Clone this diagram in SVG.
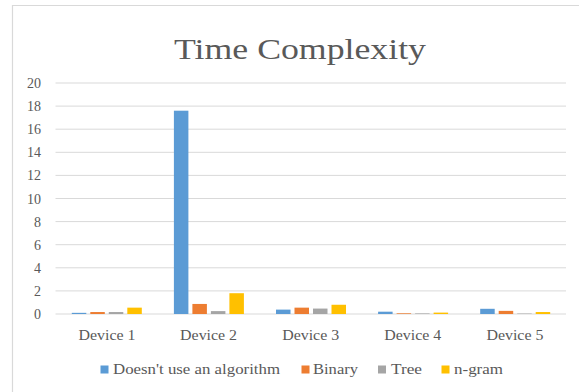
<svg xmlns="http://www.w3.org/2000/svg" width="579" height="392" viewBox="0 0 579 392">
<style>
.t{font-family:"Liberation Serif","Times New Roman",serif;fill:#595959}
.g{stroke:#D9D9D9;stroke-width:1}
.b1{fill:#5B9BD5}.b2{fill:#ED7D31}.b3{fill:#A5A5A5}.b4{fill:#FFC000}
</style>
<rect width="579" height="392" fill="#fff"/>
<path d="M12.5 392V5.5H579" fill="none" stroke="#D9D9D9" stroke-width="1.2"/>
<text class="t" x="300" y="59" font-size="29" text-anchor="middle" textLength="252" lengthAdjust="spacingAndGlyphs">Time Complexity</text>
<g id="grid" class="g">
<line x1="55.5" x2="566" y1="83" y2="83"/>
<line x1="55.5" x2="566" y1="106.1" y2="106.1"/>
<line x1="55.5" x2="566" y1="129.2" y2="129.2"/>
<line x1="55.5" x2="566" y1="152.3" y2="152.3"/>
<line x1="55.5" x2="566" y1="175.4" y2="175.4"/>
<line x1="55.5" x2="566" y1="198.5" y2="198.5"/>
<line x1="55.5" x2="566" y1="221.6" y2="221.6"/>
<line x1="55.5" x2="566" y1="244.7" y2="244.7"/>
<line x1="55.5" x2="566" y1="267.8" y2="267.8"/>
<line x1="55.5" x2="566" y1="290.9" y2="290.9"/>
<line x1="55.5" x2="566" y1="314" y2="314"/>
</g>
<g id="yaxis" class="t" font-size="14" text-anchor="end">
<text x="41" y="88">20</text>
<text x="41" y="111.1">18</text>
<text x="41" y="134.2">16</text>
<text x="41" y="157.3">14</text>
<text x="41" y="180.4">12</text>
<text x="41" y="203.5">10</text>
<text x="41" y="226.6">8</text>
<text x="41" y="249.7">6</text>
<text x="41" y="272.8">4</text>
<text x="41" y="295.9">2</text>
<text x="41" y="319">0</text>
</g>
<g id="bars">
<g id="device1">
<rect class="b1" x="71.8" y="312.84" width="14.5" height="1.16"/>
<rect class="b2" x="90.3" y="312.04" width="14.5" height="1.96"/>
<rect class="b3" x="108.8" y="312.04" width="14.5" height="1.96"/>
<rect class="b4" x="127.3" y="307.65" width="14.5" height="6.35"/>
</g>
<g id="device2">
<rect class="b1" x="173.9" y="110.7" width="14.5" height="203.3"/>
<rect class="b2" x="192.4" y="303.95" width="14.5" height="10.05"/>
<rect class="b3" x="210.9" y="311.11" width="14.5" height="2.89"/>
<rect class="b4" x="229.4" y="293.21" width="14.5" height="20.79"/>
</g>
<g id="device3">
<rect class="b1" x="276" y="309.61" width="14.5" height="4.39"/>
<rect class="b2" x="294.5" y="307.65" width="14.5" height="6.35"/>
<rect class="b3" x="313" y="308.57" width="14.5" height="5.43"/>
<rect class="b4" x="331.5" y="304.76" width="14.5" height="9.24"/>
</g>
<g id="device4">
<rect class="b1" x="378.1" y="311.69" width="14.5" height="2.31"/>
<rect class="b2" x="396.6" y="313.31" width="14.5" height="0.69"/>
<rect class="b3" x="415.1" y="313.42" width="14.5" height="0.58"/>
<rect class="b4" x="433.6" y="312.61" width="14.5" height="1.39"/>
</g>
<g id="device5">
<rect class="b1" x="480.2" y="308.8" width="14.5" height="5.2"/>
<rect class="b2" x="498.7" y="310.88" width="14.5" height="3.12"/>
<rect class="b3" x="517.2" y="313.54" width="14.5" height="0.46"/>
<rect class="b4" x="535.7" y="312.04" width="14.5" height="1.96"/>
</g>
</g>
<g id="xaxis" class="t" font-size="14" text-anchor="middle">
<text x="107" y="339.5" textLength="57" lengthAdjust="spacingAndGlyphs">Device 1</text>
<text x="208.6" y="339.5" textLength="57" lengthAdjust="spacingAndGlyphs">Device 2</text>
<text x="310.7" y="339.5" textLength="57" lengthAdjust="spacingAndGlyphs">Device 3</text>
<text x="412.8" y="339.5" textLength="57" lengthAdjust="spacingAndGlyphs">Device 4</text>
<text x="514.9" y="339.5" textLength="57" lengthAdjust="spacingAndGlyphs">Device 5</text>
</g>
<g id="legend" class="t" font-size="14">
<rect class="b1" x="100.5" y="365.5" width="8" height="8"/>
<text x="113" y="374" textLength="167" lengthAdjust="spacingAndGlyphs">Doesn't use an algorithm</text>
<rect class="b2" x="301.5" y="365.5" width="8" height="8"/>
<text x="313" y="374" textLength="45" lengthAdjust="spacingAndGlyphs">Binary</text>
<rect class="b3" x="378" y="365.5" width="8" height="8"/>
<text x="391" y="374" textLength="31" lengthAdjust="spacingAndGlyphs">Tree</text>
<rect class="b4" x="441.5" y="365.5" width="8" height="8"/>
<text x="454" y="374" textLength="49" lengthAdjust="spacingAndGlyphs">n-gram</text>
</g>
</svg>
